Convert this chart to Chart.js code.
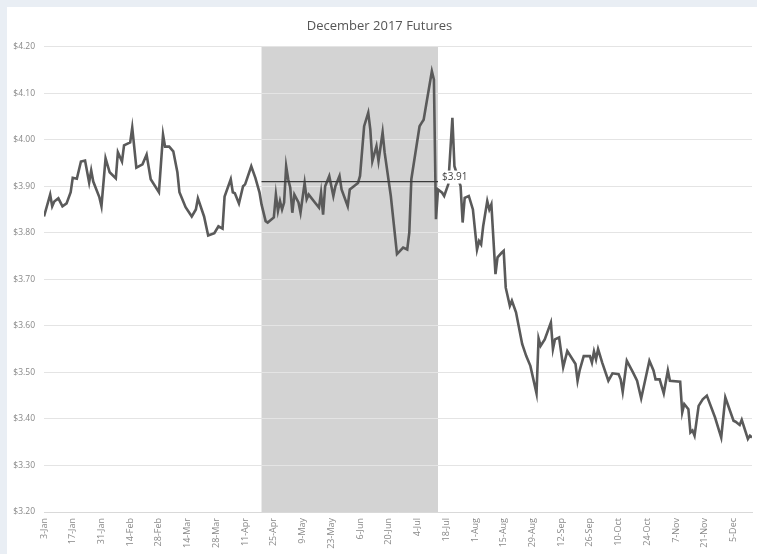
<!DOCTYPE html>
<html>
<head>
<meta charset="utf-8">
<script src="https://cdn.jsdelivr.net/npm/chart.js@4.4.1/dist/chart.umd.min.js"></script>
<style>
  html, body { margin: 0; padding: 0; background: #e9eef4; }
  #wrap { position: absolute; left: 7px; top: 7px; width: 750px; height: 547px; background: #fff; }
</style>
</head>
<body>
<div id="wrap"><canvas id="chart" width="750" height="547"></canvas></div>
<script>
// days counted from 3-Jan-2017
const days = [0, 3, 4, 5, 7, 9, 11, 13, 14, 16, 18, 20, 22, 23, 24, 27, 28, 30, 32, 35,
  36, 38, 39, 42, 43, 45, 48, 50, 52, 56, 58, 59, 61, 63, 65, 66, 69, 72, 74, 75,
  78, 80, 83, 85, 87, 88, 91, 92, 93, 95, 97, 98, 101, 103, 105, 106, 108, 109, 112, 113,
  114, 115, 116, 117, 118, 119, 120, 121, 122, 124, 125, 127, 128, 129, 132, 134, 135, 136, 137, 139,
  141, 142, 144, 145, 148, 149, 151, 153, 154, 156, 158, 159, 160, 162, 163, 165, 166, 169, 172, 175,
  177, 178, 179, 183, 184, 185, 189, 190, 191, 192, 194, 195, 197, 199, 200, 203, 204, 205, 207, 209,
  211, 212, 213, 214, 216, 217, 218, 220, 221, 223, 224, 225, 227, 228, 230, 233, 235, 237, 240, 241,
  242, 244, 247, 248, 249, 251, 253, 255, 259, 260, 261, 263, 266, 267, 268, 269, 270, 272, 275, 277,
  280, 281, 282, 284, 287, 289, 291, 295, 297, 298, 300, 302, 304, 305, 310, 311, 312, 314, 315, 316,
  317, 319, 321, 323, 327, 330, 332, 336, 337, 339, 340, 343, 344, 345];

const prices = [3.835, 3.882, 3.857, 3.867, 3.874, 3.857, 3.863, 3.887, 3.918, 3.916, 3.953, 3.955, 3.908, 3.934, 3.91, 3.876, 3.857, 3.96, 3.93, 3.917,
  3.973, 3.953, 3.988, 3.994, 4.026, 3.94, 3.947, 3.968, 3.915, 3.887, 4.011, 3.985, 3.985, 3.975, 3.93, 3.887, 3.855, 3.835, 3.85, 3.874,
  3.835, 3.794, 3.799, 3.814, 3.809, 3.878, 3.915, 3.887, 3.885, 3.863, 3.90, 3.904, 3.943, 3.918, 3.887, 3.861, 3.825, 3.822, 3.833, 3.882,
  3.847, 3.868, 3.85, 3.865, 3.943, 3.915, 3.897, 3.843, 3.882, 3.865, 3.843, 3.907, 3.872, 3.882, 3.865, 3.854, 3.886, 3.839, 3.90, 3.922,
  3.879, 3.90, 3.922, 3.893, 3.857, 3.893, 3.90, 3.907, 3.922, 4.029, 4.058, 4.022, 3.954, 3.986, 3.954, 4.016, 3.972, 3.879, 3.754, 3.768,
  3.764, 3.80, 3.915, 4.029, 4.036, 4.043, 4.147, 4.129, 3.829, 3.893, 3.886, 3.879, 3.904, 4.047, 3.943, 3.90, 3.822, 3.875, 3.879, 3.85,
  3.764, 3.782, 3.775, 3.814, 3.868, 3.85, 3.861, 3.711, 3.747, 3.757, 3.761, 3.682, 3.643, 3.654, 3.629, 3.561, 3.535, 3.514, 3.455, 3.573,
  3.557, 3.571, 3.607, 3.55, 3.571, 3.575, 3.511, 3.546, 3.518, 3.482, 3.504, 3.535, 3.535, 3.521, 3.545, 3.528, 3.55, 3.521, 3.482, 3.498,
  3.496, 3.485, 3.458, 3.525, 3.50, 3.482, 3.444, 3.525, 3.504, 3.485, 3.485, 3.455, 3.504, 3.482, 3.48, 3.414, 3.432, 3.421, 3.371, 3.375,
  3.364, 3.428, 3.442, 3.45, 3.403, 3.36, 3.446, 3.396, 3.394, 3.387, 3.398, 3.357, 3.364, 3.36];

const tickLabels = ['3-Jan', '17-Jan', '31-Jan', '14-Feb', '28-Feb', '14-Mar', '28-Mar', '11-Apr', '25-Apr',
  '9-May', '23-May', '6-Jun', '20-Jun', '4-Jul', '18-Jul', '1-Aug', '15-Aug', '29-Aug', '12-Sep',
  '26-Sep', '10-Oct', '24-Oct', '7-Nov', '21-Nov', '5-Dec'];
const tickDays = tickLabels.map((_, i) => i * 14);

// shaded window and its average
const shadeStart = 106;
const shadeEnd = 192;
const avgPrice = 3.91;

const shadePlugin = {
  id: 'shade',
  beforeDraw(chart) {
    const { ctx, chartArea, scales } = chart;
    const x0 = scales.x.getPixelForValue(shadeStart);
    const x1 = scales.x.getPixelForValue(shadeEnd);
    ctx.save();
    ctx.fillStyle = '#d3d3d3';
    ctx.fillRect(x0, chartArea.top, x1 - x0, chartArea.bottom - chartArea.top);
    ctx.restore();
  },
  afterDatasetsDraw(chart) {
    const { ctx, scales } = chart;
    const x = scales.x.getPixelForValue(shadeEnd) + 4;
    const y = scales.y.getPixelForValue(avgPrice) - 4;
    const text = '$' + avgPrice.toFixed(2);
    ctx.save();
    ctx.font = '10px "Open Sans", sans-serif';
    const w = ctx.measureText(text).width;
    ctx.fillStyle = '#fff';
    ctx.fillRect(x - 1, y - 7, w + 2, 13);
    ctx.fillStyle = '#444';
    ctx.textBaseline = 'middle';
    ctx.fillText(text, x, y);
    ctx.restore();
  }
};

new Chart(document.getElementById('chart'), {
  type: 'line',
  data: {
    datasets: [
      {
        label: 'Average',
        data: [{ x: shadeStart, y: avgPrice }, { x: shadeEnd, y: avgPrice }],
        borderColor: '#3c3c3c',
        borderWidth: 1.3,
        pointRadius: 0
      },
      {
        label: 'December 2017 Futures',
        data: days.map((d, i) => ({ x: d, y: prices[i] })),
        borderColor: '#5a5a5a',
        borderWidth: 2.6,
        pointRadius: 0,
        tension: 0
      }
    ]
  },
  options: {
    responsive: false,
    animation: false,
    layout: { padding: { right: 5 } },
    plugins: {
      legend: { display: false },
      tooltip: { enabled: false },
      title: {
        display: true,
        text: 'December 2017 Futures',
        color: '#555',
        font: { family: '"Open Sans", sans-serif', size: 13, weight: 'normal' },
        padding: { top: 11, bottom: 13 }
      }
    },
    scales: {
      x: {
        type: 'linear',
        min: 0,
        max: 345,
        afterBuildTicks(scale) {
          scale.ticks = tickDays.map(v => ({ value: v }));
        },
        afterFit(scale) { scale.height = 42; },
        grid: { display: false, drawTicks: false },
        border: { color: '#d9d9d9' },
        ticks: {
          autoSkip: false,
          minRotation: 90,
          maxRotation: 90,
          padding: 6,
          color: '#888',
          font: { family: '"Open Sans", sans-serif', size: 9 },
          callback: (v) => tickLabels[tickDays.indexOf(v)]
        }
      },
      y: {
        min: 3.2,
        max: 4.2,
        afterFit(scale) { scale.width = 37; },
        grid: { color: '#e4e4e4', drawTicks: false },
        border: { display: false },
        ticks: {
          stepSize: 0.1,
          padding: 9,
          color: '#888',
          font: { family: '"Open Sans", sans-serif', size: 8.5 },
          callback: (v) => '$' + Number(v).toFixed(2)
        }
      }
    }
  },
  plugins: [shadePlugin]
});
</script>
</body>
</html>
